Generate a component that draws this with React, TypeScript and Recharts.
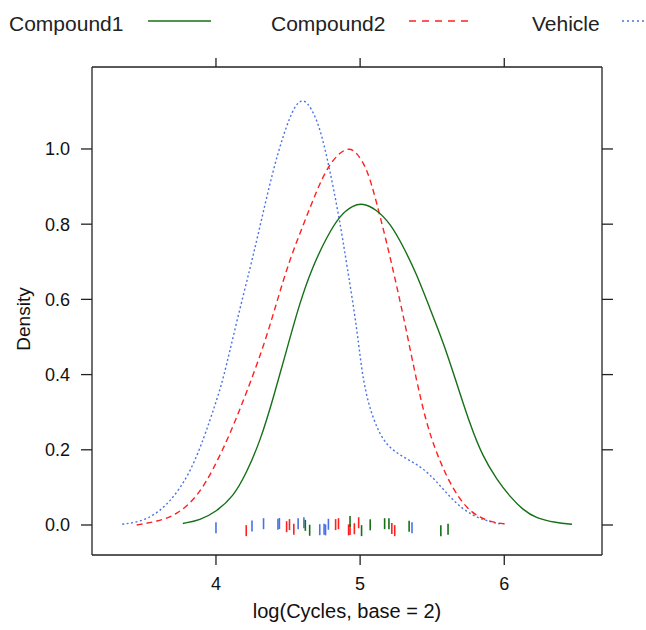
import React from 'react';
import { ComposedChart, Line, Scatter, XAxis, YAxis, Label } from 'recharts';

// ---- Data ----
const compound1Density = [
  { x: 3.77, y: 0.004 }, { x: 3.89, y: 0.013 }, { x: 4.0, y: 0.035 }, { x: 4.12, y: 0.075 },
  { x: 4.21, y: 0.137 }, { x: 4.31, y: 0.226 }, { x: 4.4, y: 0.341 }, { x: 4.49, y: 0.465 },
  { x: 4.58, y: 0.59 }, { x: 4.67, y: 0.687 }, { x: 4.77, y: 0.767 }, { x: 4.86, y: 0.824 },
  { x: 4.95, y: 0.85 }, { x: 5.02, y: 0.856 }, { x: 5.11, y: 0.84 }, { x: 5.21, y: 0.802 },
  { x: 5.3, y: 0.74 }, { x: 5.39, y: 0.669 }, { x: 5.48, y: 0.58 }, { x: 5.58, y: 0.483 },
  { x: 5.67, y: 0.377 }, { x: 5.76, y: 0.27 }, { x: 5.85, y: 0.182 }, { x: 5.95, y: 0.12 },
  { x: 6.04, y: 0.075 }, { x: 6.13, y: 0.04 }, { x: 6.22, y: 0.018 }, { x: 6.36, y: 0.006 },
  { x: 6.47, y: 0.002 },
];

const compound2Density = [
  { x: 3.45, y: 0.0 }, { x: 3.59, y: 0.009 }, { x: 3.73, y: 0.027 }, { x: 3.87, y: 0.075 },
  { x: 3.98, y: 0.146 }, { x: 4.1, y: 0.244 }, { x: 4.21, y: 0.35 }, { x: 4.33, y: 0.474 },
  { x: 4.42, y: 0.59 }, { x: 4.51, y: 0.705 }, { x: 4.61, y: 0.802 }, { x: 4.7, y: 0.891 },
  { x: 4.79, y: 0.965 }, { x: 4.91, y: 1.008 }, { x: 4.98, y: 0.99 }, { x: 5.05, y: 0.946 },
  { x: 5.11, y: 0.864 }, { x: 5.18, y: 0.758 }, { x: 5.25, y: 0.643 }, { x: 5.32, y: 0.519 },
  { x: 5.39, y: 0.386 }, { x: 5.46, y: 0.27 }, { x: 5.53, y: 0.191 }, { x: 5.62, y: 0.111 },
  { x: 5.74, y: 0.04 }, { x: 5.88, y: 0.009 }, { x: 6.02, y: 0.002 },
];

const vehicleDensity = [
  { x: 3.35, y: 0.002 }, { x: 3.52, y: 0.011 }, { x: 3.68, y: 0.058 }, { x: 3.82, y: 0.137 },
  { x: 3.92, y: 0.235 }, { x: 3.99, y: 0.315 }, { x: 4.05, y: 0.386 }, { x: 4.14, y: 0.536 },
  { x: 4.24, y: 0.687 }, { x: 4.31, y: 0.802 }, { x: 4.39, y: 0.935 }, { x: 4.47, y: 1.042 },
  { x: 4.55, y: 1.121 }, { x: 4.61, y: 1.133 }, { x: 4.66, y: 1.11 }, { x: 4.72, y: 1.059 },
  { x: 4.78, y: 0.962 }, { x: 4.85, y: 0.829 }, { x: 4.91, y: 0.687 }, { x: 4.98, y: 0.519 },
  { x: 5.02, y: 0.377 }, { x: 5.09, y: 0.279 }, { x: 5.18, y: 0.208 }, { x: 5.32, y: 0.177 },
  { x: 5.46, y: 0.146 }, { x: 5.58, y: 0.093 }, { x: 5.71, y: 0.04 }, { x: 5.85, y: 0.013 },
  { x: 5.97, y: 0.003 },
];

// observations (rug, jittered vertically around 0)
const compound1Obs = [4.62, 4.65, 4.93, 5.01, 5.07, 5.17, 5.2, 5.34, 5.56, 5.61];
const compound1Jitter = [-0.001, -0.014, 0.009, -0.015, 0.0005, 0.0035, 0.0035, -0.0035, -0.015, -0.011];
const compound2Obs = [4.21, 4.49, 4.51, 4.54, 4.83, 4.85, 4.92, 4.93, 4.96, 4.99, 5.22, 5.24];
const compound2Jitter = [-0.015, -0.0045, 0.001, -0.011, 0.001, 0.0035, -0.013, -0.012, -0.01, 0.006, -0.009, -0.015];
const vehicleObs = [4.0, 4.25, 4.33, 4.43, 4.44, 4.57, 4.61, 4.72, 4.75, 4.76, 4.78, 5.36];
const vehicleJitter = [-0.0075, -0.003, 0.0035, 0.002, 0.004, 0.0035, 0.006, -0.0125, -0.011, -0.013, 0.002, -0.0075];

const xTicks = [4, 5, 6];
const yTicks = [0, 0.2, 0.4, 0.6, 0.8, 1.0];
const xDomain = [3.14, 6.678];
const yDomain = [-0.0798, 1.218];

const seriesNames = ['Compound1', 'Compound2', 'Vehicle'];

// ---- Styles ----
const GREEN = '#167016';
const RED = '#ff2020';
const BLUE = '#4a72e6';
const FONT = '"Liberation Sans", Arial, sans-serif';
const AXIS = '#222';

const toRug = (xs: number[], ys: number[]) => xs.map((x, i) => ({ x, y: ys[i] }));
const rug1 = toRug(compound1Obs, compound1Jitter);
const rug2 = toRug(compound2Obs, compound2Jitter);
const rug3 = toRug(vehicleObs, vehicleJitter);

const makeRugShape = (color: string) => (props: any) => {
  const { cx, cy } = props;
  if (cx == null || cy == null) return <g />;
  return <line x1={cx} x2={cx} y1={cy - 5.5} y2={cy + 5.5} stroke={color} strokeWidth={1.6} />;
};

const tickStyle = { fill: '#111', fontSize: 18, fontFamily: FONT };

export default function App() {
  return (
    <div style={{ position: 'absolute', left: 0, top: 0, width: 646, height: 630, background: '#fff' }}>
      <svg width={646} height={45} style={{ position: 'absolute', left: 0, top: 0 }}>
        <text x={9} y={31} fontSize={21} fontFamily={FONT} fill="#222">{seriesNames[0]}</text>
        <line x1={148} x2={211} y1={21} y2={21} stroke={GREEN} strokeWidth={1.5} />
        <text x={271} y={31} fontSize={21} fontFamily={FONT} fill="#222">{seriesNames[1]}</text>
        <line x1={409} x2={472} y1={21} y2={21} stroke={RED} strokeWidth={1.5} strokeDasharray="7 6" />
        <text x={532} y={31} fontSize={21} fontFamily={FONT} fill="#222">{seriesNames[2]}</text>
        <line x1={622} x2={646} y1={21} y2={21} stroke={BLUE} strokeWidth={1.5} strokeDasharray="2 3" />
      </svg>
      <ComposedChart
        width={646}
        height={630}
        margin={{ top: 66, right: 43, bottom: 0, left: 0 }}
        style={{ position: 'absolute', left: 0, top: 0 }}
      >
        <XAxis
          type="number"
          dataKey="x"
          domain={xDomain}
          allowDataOverflow
          ticks={xTicks}
          interval={0}
          height={75}
          tickSize={10}
          tickMargin={12}
          tick={tickStyle}
          tickLine={{ stroke: AXIS, strokeWidth: 1.3 }}
          axisLine={{ stroke: AXIS, strokeWidth: 1.3 }}
        >
          <Label value="log(Cycles, base = 2)" position="center" dy={18} style={{ fontSize: 20, fontFamily: FONT, fill: '#111' }} />
        </XAxis>
        <XAxis
          xAxisId="top"
          orientation="top"
          type="number"
          dataKey="x"
          domain={xDomain}
          allowDataOverflow
          ticks={xTicks}
          interval={0}
          height={1}
          tickSize={9}
          tickFormatter={() => ''}
          tickLine={{ stroke: AXIS, strokeWidth: 1.3 }}
          axisLine={{ stroke: AXIS, strokeWidth: 1.3 }}
        />
        <YAxis
          type="number"
          domain={yDomain}
          allowDataOverflow
          ticks={yTicks}
          interval={0}
          width={92}
          tickSize={11}
          tickMargin={11}
          tickFormatter={(v: number) => v.toFixed(1)}
          tick={tickStyle}
          tickLine={{ stroke: AXIS, strokeWidth: 1.3 }}
          axisLine={{ stroke: AXIS, strokeWidth: 1.3 }}
        >
          <Label value="Density" angle={-90} position="center" dx={-23} dy={8} style={{ fontSize: 19, fontFamily: FONT, fill: '#111', textAnchor: 'middle' }} />
        </YAxis>
        <YAxis
          yAxisId="right"
          orientation="right"
          type="number"
          domain={yDomain}
          allowDataOverflow
          ticks={yTicks}
          interval={0}
          width={1}
          tickSize={11}
          tickFormatter={() => ''}
          tickLine={{ stroke: AXIS, strokeWidth: 1.3 }}
          axisLine={{ stroke: AXIS, strokeWidth: 1.3 }}
        />
        <Line data={vehicleDensity} dataKey="y" type="basis" stroke={BLUE} strokeWidth={1.4} strokeDasharray="2 2.5" dot={false} isAnimationActive={false} />
        <Line data={compound2Density} dataKey="y" type="basis" stroke={RED} strokeWidth={1.4} strokeDasharray="6 4" dot={false} isAnimationActive={false} />
        <Line data={compound1Density} dataKey="y" type="basis" stroke={GREEN} strokeWidth={1.4} dot={false} isAnimationActive={false} />
        <Scatter data={rug3} dataKey="y" shape={makeRugShape(BLUE)} isAnimationActive={false} />
        <Scatter data={rug2} dataKey="y" shape={makeRugShape(RED)} isAnimationActive={false} />
        <Scatter data={rug1} dataKey="y" shape={makeRugShape(GREEN)} isAnimationActive={false} />
      </ComposedChart>
    </div>
  );
}
